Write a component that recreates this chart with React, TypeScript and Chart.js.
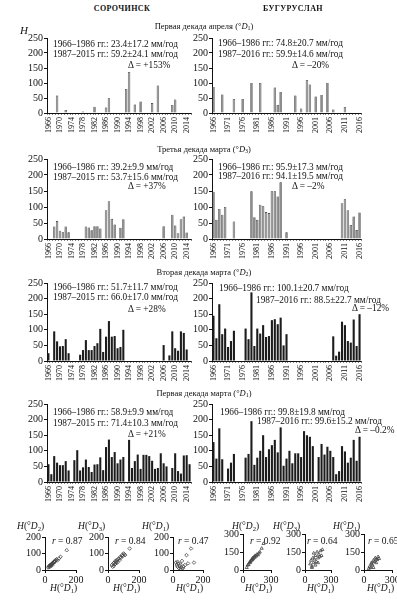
import React, { useEffect, useRef } from "react";
import { Chart, registerables } from "chart.js";
Chart.register(...registerables);

const FONT = "'Liberation Serif','Times New Roman',serif";

// ---------- categories & tick labels ----------
const SOR_YEARS = Array.from({ length: 50 }, (_, i) => String(1966 + i)); // 1966..2015
const BUG_YEARS = Array.from({ length: 51 }, (_, i) => String(1966 + i)); // 1966..2016
const SOR_TICKS = ["1966","1970","1974","1978","1982","1986","1990","1994","1998","2002","2006","2010","2014"];
const BUG_TICKS = ["1966","1971","1976","1981","1986","1991","1996","2001","2006","2011","2016"];
const n = null;

// ---------- Сорочинск (1966–2015) ----------
const SOR_APR_D1 = [
  n,n,n,58,n,n,10,n,n,n,
  n,n,5,n,n,n,21,n,n,n,
  18,49,n,n,n,n,n,80,137,n,
  28,n,38,n,n,n,33,n,92,n,
  n,n,n,27,45,n,n,n,n,n];
const SOR_MAR_D3 = [
  n,n,39,56,26,21,39,21,n,n,
  n,n,n,39,36,27,40,40,33,n,
  90,118,63,45,n,35,62,n,n,n,
  n,n,n,n,n,n,n,n,n,n,
  40,n,n,76,42,18,62,70,20,n];
const SOR_MAR_D2 = [
  25,n,95,63,47,48,70,25,n,n,
  n,20,35,67,35,35,48,57,103,29,
  78,128,78,80,41,45,100,n,n,n,
  n,n,n,n,n,n,n,n,n,n,
  51,n,18,95,41,33,95,90,37,n];
const SOR_MAR_D1 = [
  57,25,83,62,54,54,67,37,n,70,
  102,37,47,72,48,32,56,57,79,38,
  112,136,80,96,60,72,80,n,135,45,
  67,88,42,87,87,83,68,42,45,92,
  60,50,n,45,92,35,27,85,86,57];

// ---------- Бугуруслан (1966–2016) ----------
const BUG_APR_D1 = [
  87,n,n,62,n,n,n,47,n,n,
  47,n,n,100,n,n,100,n,n,n,
  n,85,27,70,n,n,n,n,58,n,
  15,n,110,95,n,55,n,60,n,100,
  n,12,n,n,n,20,n,n,n,n,n];
const BUG_MAR_D3 = [
  148,60,94,76,100,n,n,55,n,n,
  n,n,n,149,68,60,107,102,84,81,
  149,149,133,177,n,21,n,n,n,n,
  n,n,n,n,n,n,n,n,n,n,
  n,n,n,n,112,124,90,44,70,28,83];
const BUG_MAR_D2 = [
  145,73,182,86,104,45,64,97,n,n,
  n,104,70,220,48,104,88,115,77,80,
  131,134,118,139,50,86,n,n,n,n,
  n,n,n,n,n,n,n,n,n,n,
  n,79,17,30,126,115,64,59,133,48,150];
const BUG_MAR_D1 = [
  128,75,172,73,n,43,62,90,n,n,
  n,78,90,195,55,78,100,150,80,105,
  118,135,95,175,52,75,100,60,92,92,
  80,163,150,145,115,n,80,122,88,113,
  100,80,25,35,115,98,62,78,135,68,145];

// ---------- scatter plots (estimated) ----------
const S1_X = [20,25,28,30,32,35,38,40,42,45,48,50,52,55,58,60,62,65,70,75,80,90,100,140];
const S1_Y = [15,20,25,18,28,30,25,35,32,38,30,40,45,42,50,48,55,52,60,65,58,70,80,120];
const S2_X = [25,30,35,38,40,45,48,50,55,58,60,65,70,75,80,85,90,95,100,105,110,140];
const S2_Y = [30,20,40,25,45,35,55,40,50,60,45,65,70,60,80,75,90,85,100,95,90,130];
const S3_X = [20,25,30,35,40,45,50,55,60,70,80,90,100,120,140,50,30,65];
const S3_Y = [45,30,20,40,10,25,35,15,55,20,30,90,40,130,45,5,50,10];
const S4_X = [40,50,60,70,75,80,90,95,100,105,110,120,125,130,140,150,160,170,180,200,220];
const S4_Y = [20,40,45,60,70,65,80,90,85,100,95,110,105,120,115,130,125,140,150,180,220];
const S5_X = [60,70,80,90,100,100,110,120,130,140,150,160,170,180,190,200,80,120,150];
const S5_Y = [50,80,30,100,60,140,90,120,70,150,100,130,110,160,120,170,20,40,60];
const S6_X = [50,60,70,80,90,100,110,120,130,140,150,160,80,100,130];
const S6_Y = [10,30,20,60,40,80,70,100,90,85,110,95,50,20,60];

const INK = "#111";

function BarPanel(p: any) {
  const ref = useRef<HTMLCanvasElement>(null);
  useEffect(() => {
    const labels = p.labels;
    const chart = new Chart(ref.current!, {
      type: "bar",
      data: {
        labels,
        datasets: [{
          data: p.data,
          backgroundColor: p.fill,
          borderColor: p.border,
          borderWidth: p.bw,
          barPercentage: p.barPct,
          categoryPercentage: 1,
        }],
      },
      options: {
        responsive: false,
        animation: false,
        devicePixelRatio: 1,
        layout: { padding: { top: 8, right: p.padR, bottom: 0, left: 0 } },
        plugins: { legend: { display: false }, tooltip: { enabled: false } },
        scales: {
          x: {
            grid: { display: true, drawOnChartArea: false, tickLength: 2, color: "#333", lineWidth: 0.6 },
            border: { color: INK, width: 1 },
            ticks: {
              autoSkip: false, minRotation: 90, maxRotation: 90, padding: 2,
              font: { family: FONT, size: 8 }, color: INK,
              callback: (_v: any, i: number) => (p.ticks.includes(labels[i]) ? labels[i] : ""),
            },
            afterFit: (s: any) => { s.height = p.xH; s.paddingLeft = 0; s.paddingRight = 0; },
          },
          y: {
            min: 0, max: 250,
            ticks: { stepSize: 50, padding: 1, font: { family: FONT, size: 10 }, color: INK },
            grid: { drawOnChartArea: false, tickLength: 3, color: INK },
            border: { color: INK, width: 1 },
            afterFit: (s: any) => { s.width = p.yW; s.paddingTop = 0; s.paddingBottom = 0; },
          },
        },
      } as any,
    });
    return () => chart.destroy();
  }, []);
  return (
    <canvas ref={ref} width={p.w} height={p.h}
      style={{ position: "absolute", left: p.x, top: p.y, width: p.w, height: p.h }} />
  );
}

function ScatterPanel(p: any) {
  const ref = useRef<HTMLCanvasElement>(null);
  useEffect(() => {
    const pts = p.xs.map((x: number, i: number) => ({ x, y: p.ys[i] }));
    const chart = new Chart(ref.current!, {
      type: "scatter",
      data: {
        datasets: [{
          data: pts,
          pointStyle: p.pstyle,
          radius: 1.8,
          borderColor: "#444",
          backgroundColor: "rgba(255,255,255,0)",
          borderWidth: 0.8,
        }],
      },
      options: {
        responsive: false,
        animation: false,
        devicePixelRatio: 1,
        layout: { padding: { top: 8, right: p.padR, bottom: 0, left: 0 } },
        plugins: { legend: { display: false }, tooltip: { enabled: false } },
        scales: {
          x: {
            type: "linear", min: 0, max: p.max,
            ticks: { stepSize: p.max, padding: 1, maxRotation: 0, font: { family: FONT, size: 10 }, color: INK },
            grid: { drawOnChartArea: false, tickLength: 3, color: INK },
            border: { color: INK, width: 1 },
            afterFit: (s: any) => { s.height = p.xH; s.paddingLeft = 0; s.paddingRight = 0; },
          },
          y: {
            min: 0, max: p.max,
            ticks: { stepSize: p.step, padding: 1, font: { family: FONT, size: 10 }, color: INK },
            grid: { drawOnChartArea: false, tickLength: 3, color: INK },
            border: { color: INK, width: 1 },
            afterFit: (s: any) => { s.width = p.yW; s.paddingTop = 0; s.paddingBottom = 0; },
          },
        },
      } as any,
    });
    return () => chart.destroy();
  }, []);
  return (
    <canvas ref={ref} width={p.w} height={p.h}
      style={{ position: "absolute", left: p.x, top: p.y, width: p.w, height: p.h }} />
  );
}

function T(p: any) {
  const tx = p.anchor === "center" ? "translate(-50%,-50%)" : p.anchor === "right" ? "translate(-100%,-50%)" : "translate(0,-50%)";
  return (
    <div style={{
      position: "absolute", left: p.x, top: p.y, transform: tx, fontFamily: FONT,
      fontSize: p.size || 9.3, lineHeight: 1, whiteSpace: "nowrap", color: INK, ...(p.style || {}),
    }}>{p.children}</div>
  );
}

const Sub = (p: any) => (
  <sub style={{ fontSize: "0.7em", verticalAlign: "-0.25em", lineHeight: 0 }}>{p.children}</sub>
);
const HD = (p: any) => (<><i>H</i>(°<i>D</i><Sub>{p.k}</Sub>)</>);
const DD = (p: any) => (<>(°<i>D</i><Sub>{p.k}</Sub>)</>);

const LEFT = { x: 12, w: 182, yW: 35, padR: 3 };
const RIGHT = { x: 190, w: 174, yW: 22, padR: 3 };
const ROWS = [
  { y: 30, h: 103 },
  { y: 151, h: 108 },
  { y: 275, h: 106 },
  { y: 396, h: 106 },
];
const GRAY = { fill: "#8c8c8c", border: "#2a2a2a", bw: 0.6, barPct: 0.85 };
const DARK = { fill: "#1c1c1c", border: "#1c1c1c", bw: 0, barPct: 0.72 };

export default function App() {
  const sorData = [SOR_APR_D1, SOR_MAR_D3, SOR_MAR_D2, SOR_MAR_D1];
  const bugData = [BUG_APR_D1, BUG_MAR_D3, BUG_MAR_D2, BUG_MAR_D1];
  const styles = [GRAY, GRAY, DARK, DARK];

  const ann = [
    { l: [["1966–1986 гг.: 23.4±17.2 мм/год", 53, 45], ["1987–2015 гг.: 59.2±24.1 мм/год", 53, 55], ["Δ = +153%", 128, 66]],
      r: [["1966–1986 гг.: 74.8±20.7 мм/год", 218, 44], ["1987–2016 гг.: 59.9±14.6 мм/год", 218, 55], ["Δ = –20%", 292, 66]] },
    { l: [["1966–1986 гг.: 39.2±9.9 мм/год", 53, 168], ["1987–2015 гг.: 53.7±15.6 мм/год", 53, 178], ["Δ = +37%", 128, 187]],
      r: [["1966–1986 гг.: 95.9±17.3 мм/год", 218, 168], ["1987–2016 гг.: 94.1±19.5 мм/год", 218, 177], ["Δ = –2%", 292, 187]] },
    { l: [["1966–1986 гг.: 51.7±11.7 мм/год", 53, 288], ["1987–2015 гг.: 66.0±17.0 мм/год", 53, 298], ["Δ = +28%", 128, 310]],
      r: [["1966–1986 гг.: 100.1±20.7 мм/год", 219, 289], ["1987–2016 гг.: 88.5±22.7 мм/год", 256, 301], ["Δ = –12%", 352, 309]] },
    { l: [["1966–1986 гг.: 58.9±9.9 мм/год", 53, 413], ["1987–2015 гг.: 71.4±10.3 мм/год", 53, 424], ["Δ = +21%", 128, 435]],
      r: [["1966–1986 гг.: 99.8±19.8 мм/год", 220, 413], ["1987–2016 гг.: 99.6±15.2 мм/год", 257, 422], ["Δ = –0.2%", 355, 431]] },
  ];

  const subtitles = [
    [<>Первая декада апреля <DD k={1} /></>, 26],
    [<>Третья декада марта <DD k={3} /></>, 149],
    [<>Вторая декада марта <DD k={2} /></>, 272],
    [<>Первая декада марта <DD k={1} /></>, 393],
  ];

  const scat = [
    { x: 15, y: 529, w: 71, h: 57, max: 200, step: 100, xs: S1_X, ys: S1_Y, ps: "rectRot", k: 2, lx: 17, xl: 50, rx: 52, r: "0.87" },
    { x: 78, y: 529, w: 71, h: 57, max: 200, step: 100, xs: S2_X, ys: S2_Y, ps: "rectRot", k: 3, lx: 78, xl: 113, rx: 115, r: "0.84" },
    { x: 143, y: 529, w: 70, h: 57, max: 200, step: 100, xs: S3_X, ys: S3_Y, ps: "rectRot", k: 1, lx: 142, xl: 176, rx: 178, r: "0.47" },
    { x: 213, y: 526, w: 68, h: 60, max: 300, step: 150, xs: S4_X, ys: S4_Y, ps: "triangle", k: 2, lx: 232, xl: 245, rx: 250, r: "0.92" },
    { x: 275, y: 526, w: 66, h: 60, max: 300, step: 150, xs: S5_X, ys: S5_Y, ps: "triangle", k: 3, lx: 273, xl: 307, rx: 307, r: "0.64" },
    { x: 334, y: 526, w: 63, h: 60, max: 300, step: 150, xs: S6_X, ys: S6_Y, ps: "triangle", k: 1, lx: 333, xl: 367, rx: 368, r: "0.65" },
  ];

  return (
    <div style={{ position: "absolute", left: 0, top: 0, width: 397, height: 600, overflow: "hidden", background: "#fff" }}>
      {ROWS.map((r, i) => (
        <React.Fragment key={"row" + i}>
          <BarPanel x={LEFT.x} y={r.y} w={LEFT.w} h={r.h} yW={LEFT.yW} xH={20} padR={LEFT.padR}
            labels={SOR_YEARS} ticks={SOR_TICKS} data={sorData[i]} {...styles[i]} />
          <BarPanel x={RIGHT.x} y={r.y} w={RIGHT.w} h={r.h} yW={RIGHT.yW} xH={20} padR={RIGHT.padR}
            labels={BUG_YEARS} ticks={BUG_TICKS} data={bugData[i]} {...styles[i]} />
        </React.Fragment>
      ))}
      {scat.map((s, i) => (
        <ScatterPanel key={"sc" + i} x={s.x} y={s.y} w={s.w} h={s.h} yW={30} xH={16} padR={s.x === 334 ? 4 : 10}
          max={s.max} step={s.step} xs={s.xs} ys={s.ys} pstyle={s.ps} />
      ))}

      <T x={122} y={9} anchor="center" size={8} style={{ letterSpacing: 0.4, fontWeight: "bold" }}>СОРОЧИНСК</T>
      <T x={293} y={9} anchor="center" size={8} style={{ letterSpacing: 0.4, fontWeight: "bold" }}>БУГУРУСЛАН</T>
      <T x={20} y={30} size={11}><i>H</i></T>
      {subtitles.map((s: any, i) => (
        <T key={"st" + i} x={204} y={s[1]} anchor="center" size={8.5}>{s[0]}</T>
      ))}
      {ann.map((a, i) => (
        <React.Fragment key={"ann" + i}>
          {[...a.l, ...a.r].map((t: any, j) => (
            <T key={j} x={t[1]} y={t[2]}>{t[0]}</T>
          ))}
        </React.Fragment>
      ))}
      {scat.map((s, i) => (
        <React.Fragment key={"sl" + i}>
          <T x={s.lx} y={527} size={9.5}><HD k={s.k} /></T>
          <T x={s.xl} y={589} size={9.5}><HD k={1} /></T>
          <T x={s.rx} y={542} size={9.5}><i>r</i> = {s.r}</T>
        </React.Fragment>
      ))}
    </div>
  );
}
